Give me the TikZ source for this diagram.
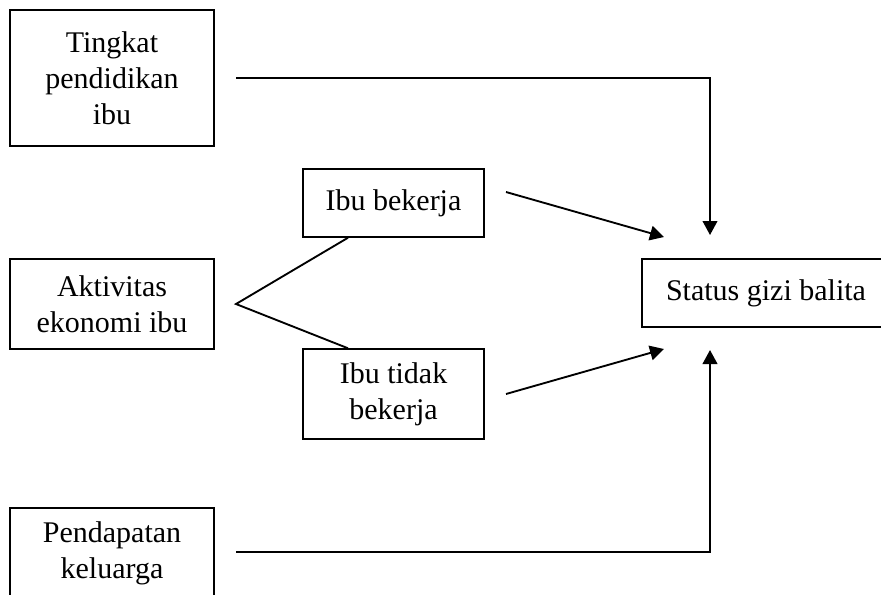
\documentclass[tikz,border=0pt]{standalone}
\usepackage{fontspec}
\setmainfont{Liberation Serif}
\usetikzlibrary{arrows.meta}
\begin{document}
\begin{tikzpicture}[x=0.75pt,y=-0.75pt,
  box/.style={draw,line width=1.1pt,align=center,inner sep=0pt,minimum width=153pt,font=\fontsize{22.5}{27}\selectfont},
  conn/.style={line width=1.4pt},
  arr/.style={line width=1.4pt,-{Triangle[length=10.5pt,width=11pt]}}]
\useasboundingbox (0,0) rectangle (881,594);
\clip (0,0) rectangle (881,594);
\fill[white] (0,0) rectangle (881,594);
\node[box,minimum height=102pt] (tingkat) at (112,78) {Tingkat\\pendidikan\\ibu};
\node[box,minimum height=67.5pt] (aktivitas) at (112,304) {Aktivitas\\ekonomi ibu};
\node[box,minimum height=67.5pt] (pendapatan) at (112,553) {Pendapatan\\keluarga};
\node[box,minimum width=135.75pt,minimum height=51pt] (bekerja) at (393.5,203) {Ibu bekerja};
\node[box,minimum width=135.75pt,minimum height=67.5pt] (tidak) at (393.5,394) {Ibu tidak\\bekerja};
\node[box,minimum width=186pt,minimum height=51pt] (status) at (766,293) {Status gizi balita};
% free ends
\coordinate (t0) at (236,78);
\coordinate (t1) at (710,78);
\coordinate (t2) at (710,235);
\coordinate (fork) at (236,304);
\coordinate (bk0) at (506,192);
\coordinate (bk1) at (664,237);
\coordinate (td0) at (506,394);
\coordinate (td1) at (664,349);
\coordinate (p0) at (236,552);
\coordinate (p1) at (710,552);
\coordinate (p2) at (710,350);
\draw[arr] (t0) -- (t1) -- (t2);
\draw[conn] (bekerja.south -| 348,0) -- (fork) -- (tidak.north -| 348,0);
\draw[arr] (bk0) -- (bk1);
\draw[arr] (td0) -- (td1);
\draw[arr] (p0) -- (p1) -- (p2);
\end{tikzpicture}
\end{document}
